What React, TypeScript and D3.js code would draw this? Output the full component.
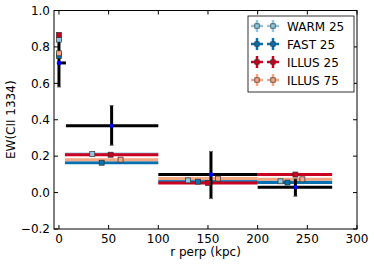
import React from 'react';
import * as d3 from 'd3';

// observed points (black error bars, blue dot)
const obsX = [0, 53, 153, 238];
const obsY = [0.712, 0.367, 0.099, 0.029];
const obsXLo = [-1, 7, 100, 200];
const obsXHi = [7, 100, 200, 275];
const obsYLo = [0.58, 0.26, -0.033, -0.02];
const obsYHi = [0.84, 0.478, 0.226, 0.075];

// model bins (x extent of the bands)
const binLo = [null, 6, 100, 200];
const binHi = [null, 100, 200, 275];

const modelNames = ['WARM 25', 'FAST 25', 'ILLUS 25', 'ILLUS 75'];
const modelColors = ['#92c5de', '#0571b0', '#ca0020', '#f4a582'];
const warmX = [0, 33.5, 130, 223];
const warmY = [0.84, 0.212, 0.067, 0.062];
const fastX = [0, 43, 140, 230];
const fastY = [0.75, 0.164, 0.06, 0.055];
const illus25X = [0, 52, 150, 238];
const illus25Y = [0.866, 0.208, 0.053, 0.099];
const illus75X = [0, 62, 160, 245];
const illus75Y = [0.765, 0.181, 0.077, 0.073];

const xTicks = [0, 50, 100, 150, 200, 250, 300];
const yTicks = [-0.2, 0, 0.2, 0.4, 0.6, 0.8, 1.0];

const W = 374;
const H = 266;
const margin = { top: 10.5, right: 17, bottom: 37, left: 54 };
const font = 'DejaVu Sans, Bitstream Vera Sans, sans-serif';

export default function App() {
  const x = d3.scaleLinear().domain([-5, 300]).range([margin.left, W - margin.right]);
  const y = d3.scaleLinear().domain([-0.2, 1.0]).range([H - margin.bottom, margin.top]);
  const [x0, x1] = x.range();
  const [y0, y1] = y.range();
  const fmt = d3.format('.1f');

  const models = [
    { xs: warmX, ys: warmY },
    { xs: fastX, ys: fastY },
    { xs: illus25X, ys: illus25Y },
    { xs: illus75X, ys: illus75Y },
  ].map((m, i) => ({ ...m, name: modelNames[i], color: modelColors[i] }));

  const tick = 4;
  const ms = 5;

  return (
    <svg width={W} height={H} style={{ position: 'absolute', left: 0, top: 0, background: '#fff' }}
      fontFamily={font}>
      <rect x={0} y={0} width={W} height={H} fill="#fff" />

      {/* model bands */}
      {models.map((m, i) => (
        <g key={'band' + i}>
          {m.ys.map((v, j) => binLo[j] == null ? null : (
            <line key={j} x1={x(binLo[j] as number)} x2={x(binHi[j] as number)} y1={y(v)} y2={y(v)}
              stroke={m.color} strokeWidth={3} />
          ))}
        </g>
      ))}

      {/* observed error bars */}
      {obsX.map((v, i) => (
        <g key={'obs' + i}>
          <line x1={x(obsXLo[i])} x2={x(obsXHi[i])} y1={y(obsY[i])} y2={y(obsY[i])} stroke="#000" strokeWidth={3} />
          <line x1={x(v)} x2={x(v)} y1={y(obsYLo[i])} y2={y(obsYHi[i])} stroke="#000" strokeWidth={3} />
          <line x1={x(v) - 2} x2={x(v) + 2} y1={y(obsYLo[i])} y2={y(obsYLo[i])} stroke="#666" strokeWidth={1} />
          <line x1={x(v) - 2} x2={x(v) + 2} y1={y(obsYHi[i])} y2={y(obsYHi[i])} stroke="#666" strokeWidth={1} />
        </g>
      ))}

      {/* model markers */}
      {models.map((m, i) => (
        <g key={'mk' + i}>
          {m.xs.map((v, j) => (
            <rect key={j} x={x(v) - ms / 2} y={y(m.ys[j]) - ms / 2} width={ms} height={ms}
              fill={m.color} stroke="#333" strokeWidth={0.7} />
          ))}
        </g>
      ))}

      {/* observed dots */}
      {obsX.map((v, i) => (
        <circle key={'dot' + i} cx={x(v)} cy={y(obsY[i])} r={2.3} fill="#0000ff" />
      ))}

      {/* frame */}
      <rect x={x0} y={y1} width={x1 - x0} height={y0 - y1} fill="none" stroke="#000" strokeWidth={1} />

      {/* x ticks */}
      {xTicks.map(t => (
        <g key={'xt' + t}>
          <line x1={x(t)} x2={x(t)} y1={y0} y2={y0 - tick} stroke="#000" />
          <line x1={x(t)} x2={x(t)} y1={y1} y2={y1 + tick} stroke="#000" />
          <text x={x(t)} y={y0 + 14} fontSize={12} textAnchor="middle">{t}</text>
        </g>
      ))}

      {/* y ticks */}
      {yTicks.map(t => (
        <g key={'yt' + t}>
          <line x1={x0} x2={x0 + tick} y1={y(t)} y2={y(t)} stroke="#000" />
          <line x1={x1} x2={x1 - tick} y1={y(t)} y2={y(t)} stroke="#000" />
          <text x={x0 - 4} y={y(t) + 4.3} fontSize={12} textAnchor="end">{fmt(t)}</text>
        </g>
      ))}

      <text x={(x0 + x1) / 2} y={256} fontSize={12} textAnchor="middle">r perp (kpc)</text>
      <text transform={`translate(15,${(y0 + y1) / 2}) rotate(-90)`} fontSize={12} textAnchor="middle">EW(CII 1334)</text>

      {/* legend */}
      <g>
        <rect x={248} y={16} width={106} height={76} fill="#fff" stroke="#000" strokeWidth={0.8} />
        {models.map((m, i) => {
          const ry = 26 + i * 18;
          return (
            <g key={'lg' + i}>
              {[257, 273].map(cx => (
                <g key={cx}>
                  <line x1={cx - 6} x2={cx + 6} y1={ry} y2={ry} stroke={m.color} strokeWidth={2.5} />
                  <line x1={cx} x2={cx} y1={ry - 6} y2={ry + 6} stroke={m.color} strokeWidth={2.5} />
                  <rect x={cx - 2.2} y={ry - 2.2} width={4.4} height={4.4} fill={m.color} stroke="#333" strokeWidth={0.7} />
                </g>
              ))}
              <text x={287} y={ry + 4.5} fontSize={12}>{m.name}</text>
            </g>
          );
        })}
      </g>
    </svg>
  );
}
